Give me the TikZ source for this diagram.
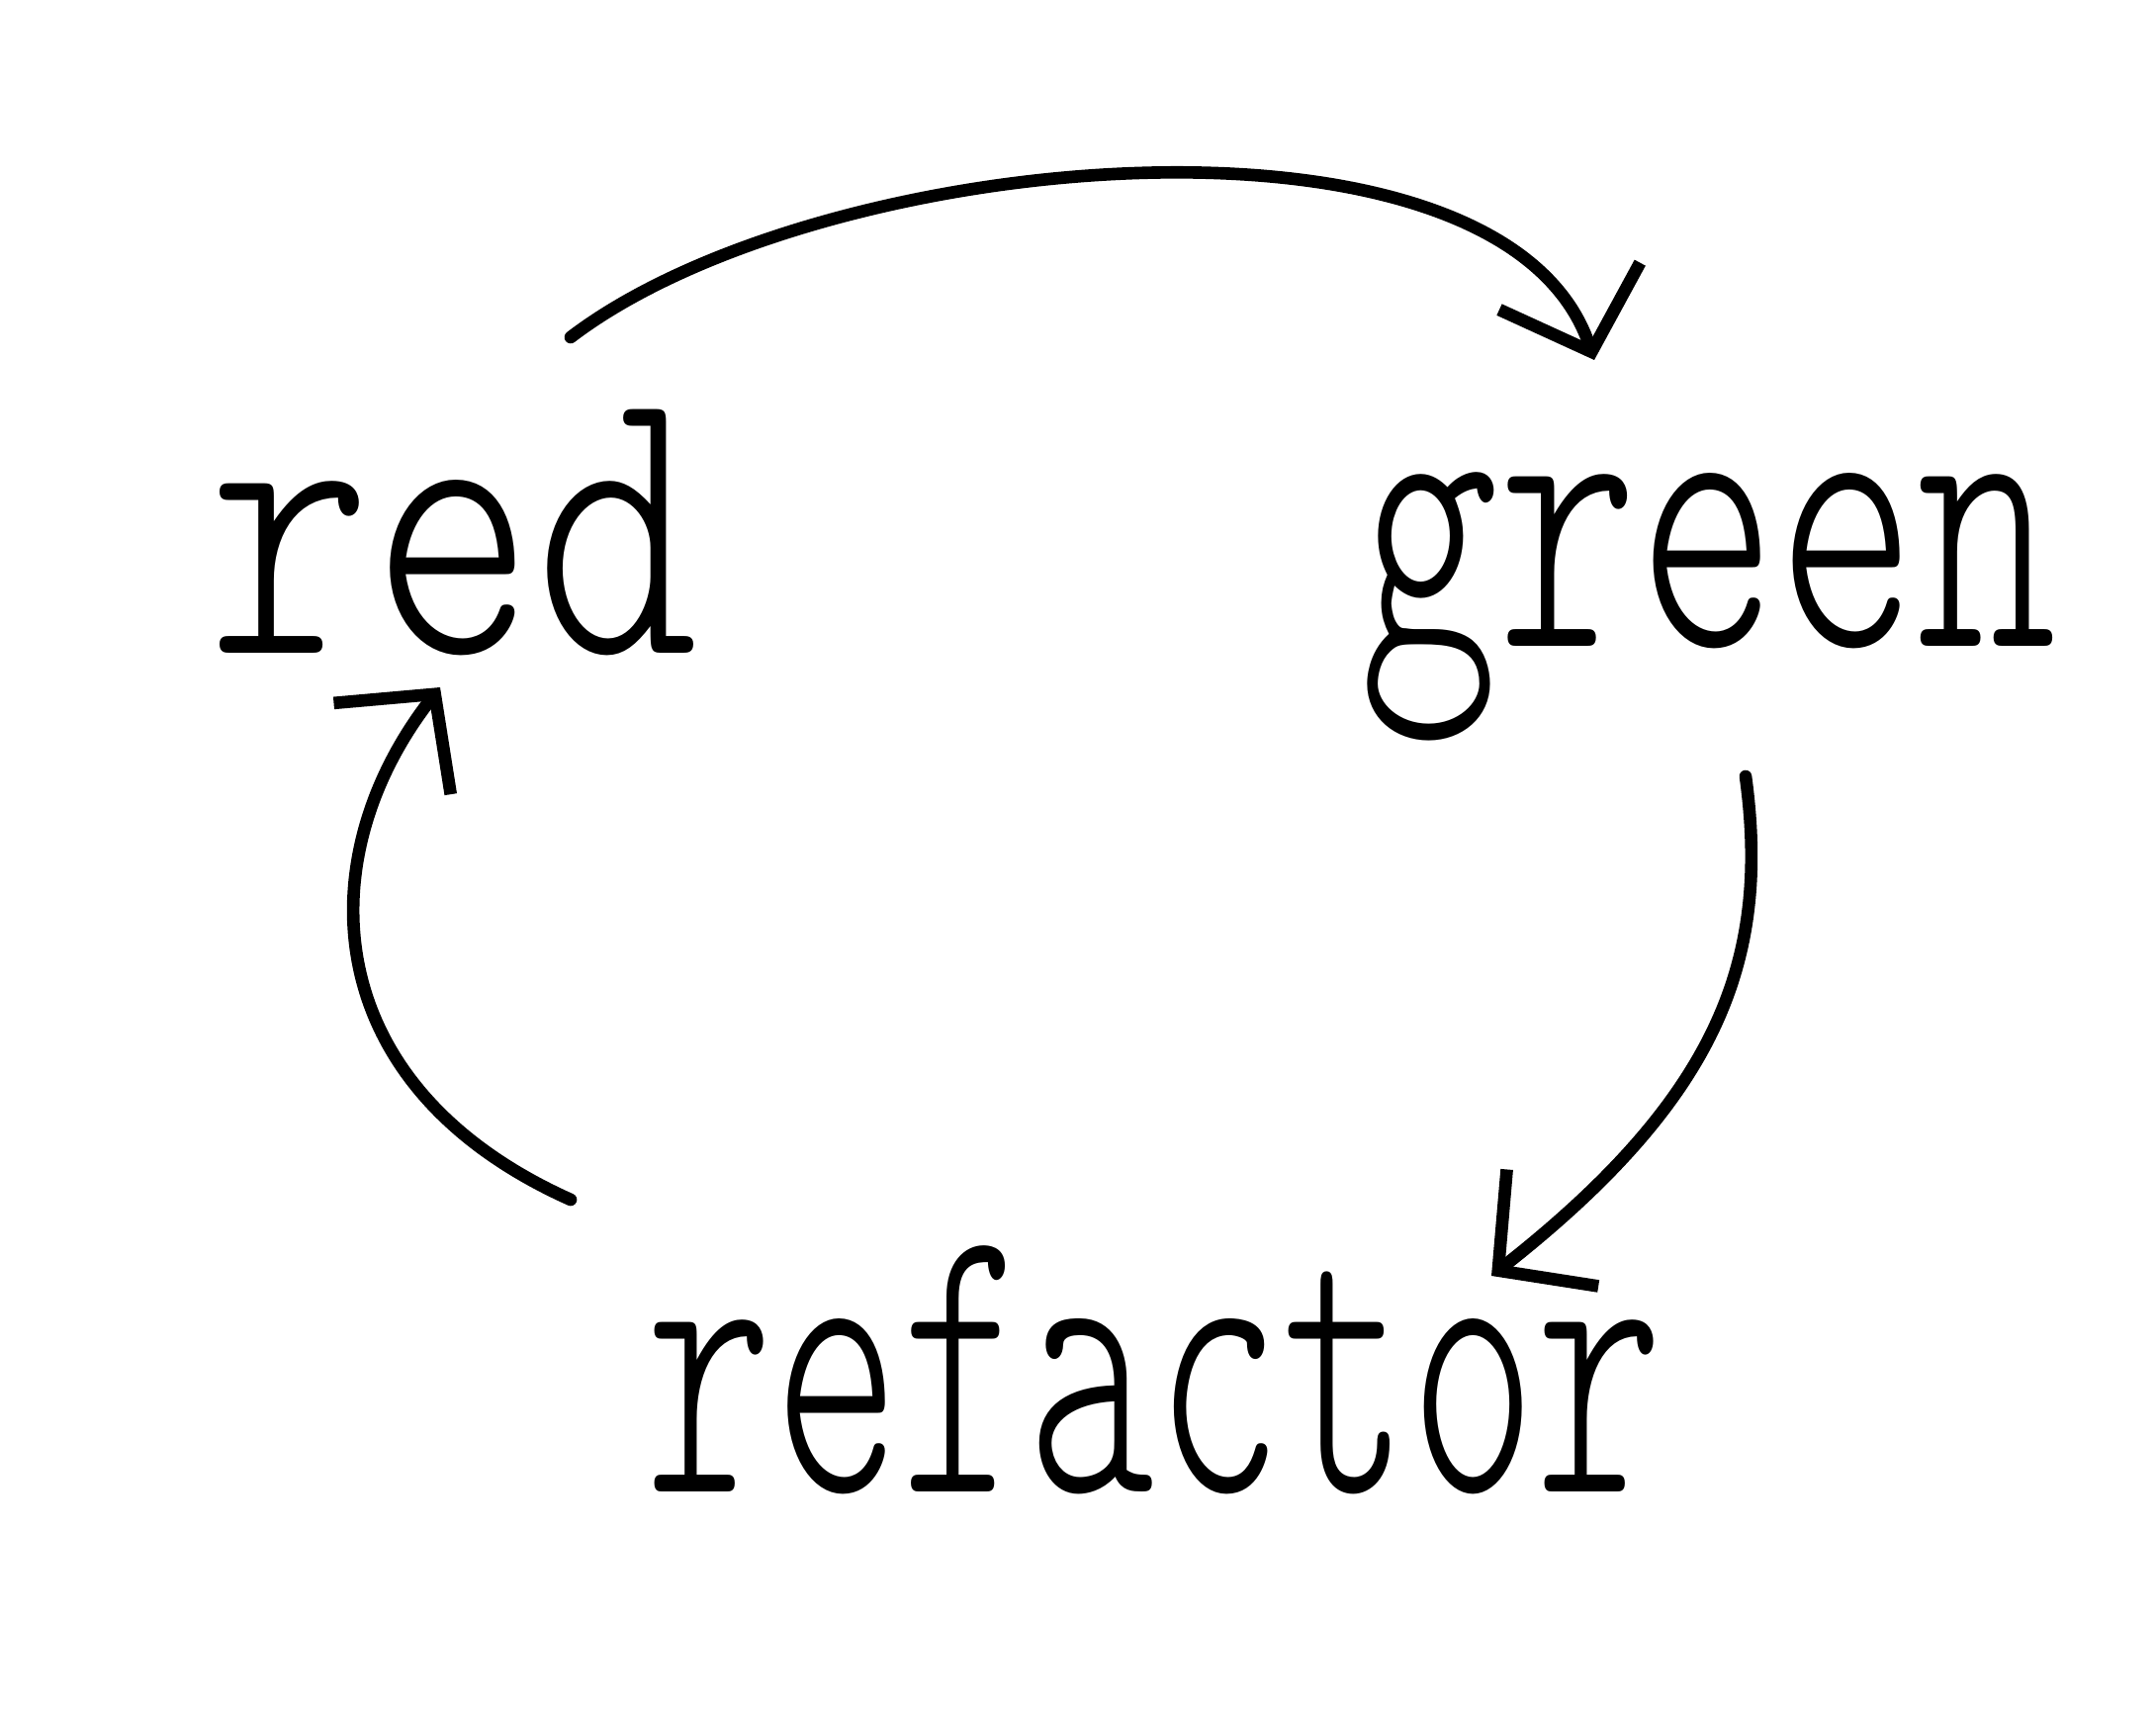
\documentclass[tikz,border=0pt]{standalone}
\usetikzlibrary{arrows.meta}
\begin{document}
\begin{tikzpicture}[x=1cm,y=1cm,
  word/.style={inner sep=0pt, anchor=base, font=\fontfamily{lmtt}\fontseries{l}\fontsize{85}{90}\selectfont},
  pen/.style={line width=3.6pt, line cap=round, line join=round, -{Straight Barb[length=7mm,width=15mm]}}]
\fill[white] (0,0) rectangle (21.8,17.28);
\useasboundingbox (0,0) rectangle (21.8,17.28);
\node[word] (red) at (4.59,10.68) {\scalebox{1.05}[1.35]{red}};
\node[word] (green) at (17.27,10.75) {\scalebox{0.9}[1.35]{green}};
\node[word] (refactor) at (11.68,2.20) {\scalebox{0.82}[1.35]{refactor}};
\coordinate (redout) at (5.77,13.87);
\coordinate (greenin) at (16.12,13.64);
\coordinate (greenout) at (17.65,9.43);
\coordinate (refin) at (15.08,4.38);
\coordinate (refout) at (5.77,5.15);
\coordinate (redin) at (4.45,10.33);
\draw[pen] (redout) .. controls (8.3,15.8) and (15.2,16.4) .. (greenin);
\draw[pen] (greenout) .. controls (17.9,7.6) and (17.4,6.2) .. (refin);
\draw[pen] (refout) .. controls (3.2,6.3) and (3.1,8.6) .. (redin);
\end{tikzpicture}
\end{document}
